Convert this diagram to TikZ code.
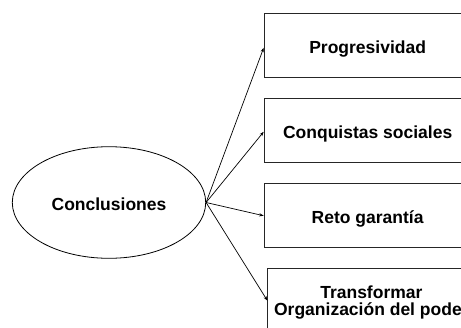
\documentclass[tikz,border=0pt]{standalone}
\usepackage{fontspec}
\setmainfont{Liberation Sans}
\usetikzlibrary{shapes.geometric,arrows.meta}
\begin{document}
\begin{tikzpicture}[x=1pt,y=-1pt,
  lbl/.style={font=\fontsize{17.5}{17.3}\selectfont\bfseries},
  boxnode/.style={lbl, draw=black!85, line width=0.9pt, rectangle,
    minimum width=207pt, minimum height=64pt, inner sep=0pt, anchor=north west},
  onel/.style={text height=18.5pt, text depth=3.5pt},
  ellnode/.style={lbl, draw=black, line width=0.8pt, ellipse, inner sep=0pt,
    minimum width=193.4pt, minimum height=111.6pt, onel},
  conn/.style={draw=black, line width=0.7pt, -{Stealth[length=4.5pt,width=3.2pt]}}]
\useasboundingbox (0,0) rectangle (461,327);
\clip (0,0) rectangle (461,327);
\node[ellnode] (ell) at (109,202.5) {Conclusiones};
\node[boxnode, onel] (b1) at (263.7,13.3) {Progresividad};
\node[boxnode, onel] (b2) at (263.7,98.3) {Conquistas sociales};
\node[boxnode, onel] (b3) at (263.7,183.3) {Reto garantía};
\node[boxnode, align=center, minimum height=69pt] (b4) at (267.4,267.7) {Transformar\\Organización del pode\phantom{r}};
\draw[conn] (ell.east) -- ([yshift=-2pt]b1.west);
\draw[conn] (ell.east) -- ([yshift=-1pt]b2.west);
\draw[conn] (ell.east) -- (b3.west);
\draw[conn] (ell.east) -- ([yshift=2pt]b4.west);
\end{tikzpicture}
\end{document}
